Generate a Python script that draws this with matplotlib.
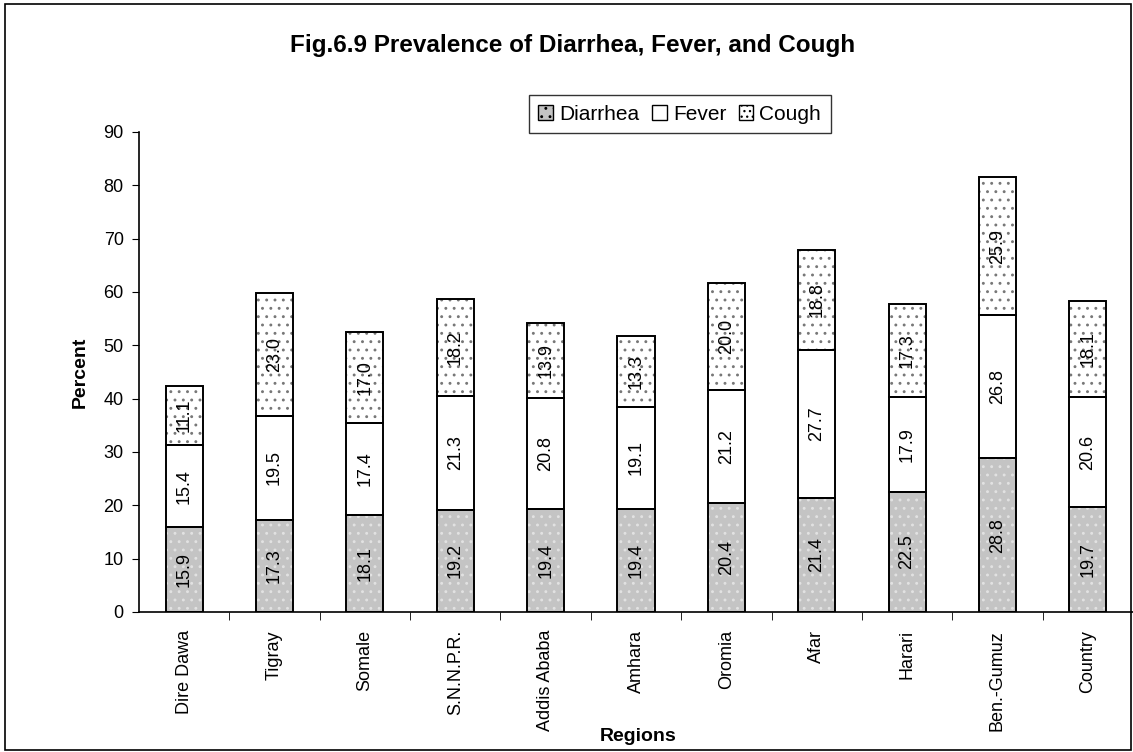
import numpy as np
import matplotlib
matplotlib.use('Agg')
from matplotlib import pyplot as plt
from matplotlib.patches import Patch, Rectangle

regions = ['Dire Dawa', 'Tigray', 'Somale', 'S.N.N.P.R.', 'Addis Ababa', 'Amhara',
           'Oromia', 'Afar', 'Harari', 'Ben.-Gumuz', 'Country']
diarrhea = [15.9, 17.3, 18.1, 19.2, 19.4, 19.4, 20.4, 21.4, 22.5, 28.8, 19.7]
fever = [15.4, 19.5, 17.4, 21.3, 20.8, 19.1, 21.2, 27.7, 17.9, 26.8, 20.6]
cough = [11.1, 23.0, 17.0, 18.2, 13.9, 13.3, 20.0, 18.8, 17.3, 25.9, 18.1]
yticks = [0, 10, 20, 30, 40, 50, 60, 70, 80, 90]

plt.rcParams['font.family'] = ['Liberation Sans', 'DejaVu Sans']
plt.rcParams['hatch.linewidth'] = 0.9


def main():
    fig = plt.figure(figsize=(11.33, 7.52), dpi=100)
    ax = fig.add_axes([0.1227, 0.1862, 0.8773, 0.6383])

    x = np.arange(len(regions))
    w = 0.41
    d = np.array(diarrhea)
    f = np.array(fever)
    c = np.array(cough)

    # fill + texture first, then the black outline on top
    ax.bar(x, d, w, color='#c4c4c4', hatch='..', edgecolor='#e2e2e2', linewidth=0)
    ax.bar(x, f, w, bottom=d, color='white', linewidth=0)
    ax.bar(x, c, w, bottom=d + f, color='white', hatch='..', edgecolor='#777777', linewidth=0)
    for vals, bot in [(d, 0), (f, d), (c, d + f)]:
        ax.bar(x, vals, w, bottom=bot, facecolor='none', edgecolor='black', linewidth=1.4)

    for vals, bot in [(d, 0 * d), (f, d), (c, d + f)]:
        for xi, v, b in zip(x, vals, bot):
            ax.text(xi, b + v / 2, '%.1f' % v, rotation=90, ha='center', va='center',
                    fontsize=13)

    ax.set_xlim(-0.5, 10.44)
    ax.set_ylim(0, 90)
    ax.set_yticks(yticks)
    ax.set_xticks(x)
    ax.set_xticklabels(regions, rotation=90)
    ax.set_xticks(np.arange(len(regions)) + 0.5, minor=True)
    ax.tick_params(axis='x', which='major', length=0, pad=13, labelsize=13)
    ax.tick_params(axis='x', which='minor', length=6, direction='out')
    ax.tick_params(axis='y', length=5, direction='out', labelsize=13, pad=6)
    for s in ['top', 'right']:
        ax.spines[s].set_visible(False)
    ax.spines['left'].set_linewidth(1.2)
    ax.spines['bottom'].set_linewidth(1.2)

    fig.text(0.505, 0.940, 'Fig.6.9 Prevalence of Diarrhea, Fever, and Cough',
             ha='center', va='center', fontsize=17.5, fontweight='bold')
    fig.text(0.563, 0.020, 'Regions', ha='center', va='center', fontsize=14, fontweight='bold')
    fig.text(0.071, 0.505, 'Percent', ha='center', va='center', rotation=90,
             fontsize=14, fontweight='bold')

    handles = [Patch(facecolor='#c4c4c4', edgecolor='black', hatch='..'),
               Patch(facecolor='white', edgecolor='black'),
               Patch(facecolor='white', edgecolor='black', hatch='...')]
    leg = fig.legend(handles, ['Diarrhea', 'Fever', 'Cough'], loc='lower left',
                     bbox_to_anchor=(0.467, 0.823), ncol=3, frameon=True, fancybox=False,
                     fontsize=15, handlelength=0.7, handleheight=0.7, handletextpad=0.3,
                     columnspacing=0.6, borderpad=0.45, borderaxespad=0)
    leg.get_frame().set_edgecolor('black')
    leg.get_frame().set_linewidth(1.0)

    fig.patches.append(Rectangle((0.004, 0.002), 0.994, 0.993, transform=fig.transFigure,
                                 fill=False, edgecolor='black', linewidth=1.2))

    fig.savefig('out.png', dpi=100)


if __name__ == '__main__':
    main()
